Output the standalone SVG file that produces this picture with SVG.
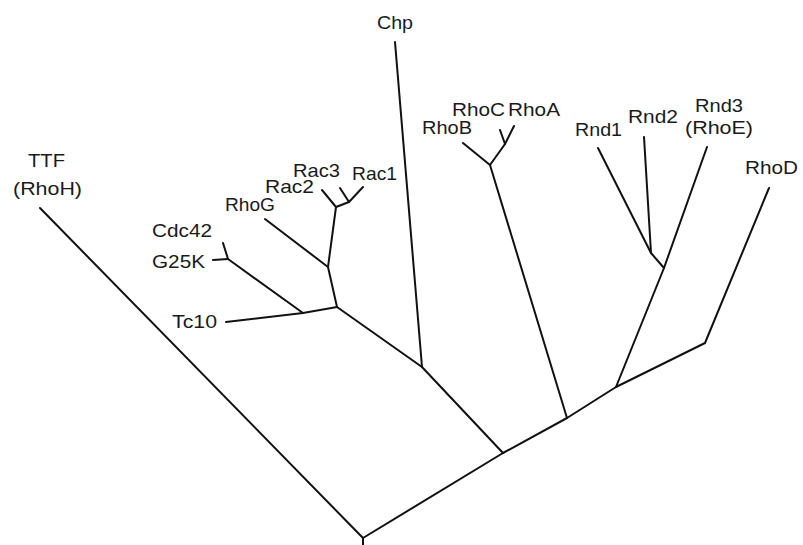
<svg xmlns="http://www.w3.org/2000/svg" width="803" height="545" viewBox="0 0 803 545">
  <style>
    .lbl { font-family: "Liberation Sans", Arial, sans-serif; font-size: 19px; fill: #1a1a1a; }
    .br { fill: none; stroke: #111; stroke-width: 2; stroke-linejoin: round; stroke-linecap: round; }
  </style>
  <rect width="803" height="545" fill="#ffffff"/>
  <g id="connectors">
    <!-- root and trunk -->
    <path class="br" d="M363,545 L363,538"/>
    <path class="br" d="M40,208 L363,538"/>
    <path class="br" d="M363,538 L503,453 L567,418 L616,387 L705,343 L769,188"/>
    <!-- Rho-like cluster -->
    <path class="br" d="M503,453 L422,367 L337,307"/>
    <path class="br" d="M422,367 L395,42"/>
    <path class="br" d="M337,307 L303,313 L226,322"/>
    <path class="br" d="M303,313 L228,259"/>
    <path class="br" d="M228,259 L223,243"/>
    <path class="br" d="M228,259 L213,260"/>
    <path class="br" d="M337,307 L328,267 L265,219"/>
    <path class="br" d="M328,267 L336,207 L322,190"/>
    <path class="br" d="M336,207 L349,202 L340,188"/>
    <path class="br" d="M349,202 L363,187"/>
    <!-- RhoA/B/C -->
    <path class="br" d="M567,418 L490,165 L463,143"/>
    <path class="br" d="M490,165 L505,144 L500,130"/>
    <path class="br" d="M505,144 L514,126"/>
    <!-- Rnd -->
    <path class="br" d="M616,387 L664,268 L707,147"/>
    <path class="br" d="M664,268 L651,253 L598,148"/>
    <path class="br" d="M651,253 L644,137"/>
  </g>
  <g id="node-TTF"><text class="lbl" x="28" y="167" textLength="37" lengthAdjust="spacingAndGlyphs">TTF</text><text class="lbl" x="13" y="195" textLength="69" lengthAdjust="spacingAndGlyphs">(RhoH)</text></g>
  <g id="node-Cdc42"><text class="lbl" x="152" y="237" textLength="60" lengthAdjust="spacingAndGlyphs">Cdc42</text></g>
  <g id="node-G25K"><text class="lbl" x="152" y="268" textLength="53" lengthAdjust="spacingAndGlyphs">G25K</text></g>
  <g id="node-Tc10"><text class="lbl" x="172" y="328" textLength="45" lengthAdjust="spacingAndGlyphs">Tc10</text></g>
  <g id="node-RhoG"><text class="lbl" x="225" y="211" textLength="50" lengthAdjust="spacingAndGlyphs">RhoG</text></g>
  <g id="node-Rac2"><text class="lbl" x="265" y="193" textLength="49" lengthAdjust="spacingAndGlyphs">Rac2</text></g>
  <g id="node-Rac3"><text class="lbl" x="293" y="177" textLength="47" lengthAdjust="spacingAndGlyphs">Rac3</text></g>
  <g id="node-Rac1"><text class="lbl" x="352" y="180" textLength="45" lengthAdjust="spacingAndGlyphs">Rac1</text></g>
  <g id="node-Chp"><text class="lbl" x="377" y="29" textLength="36" lengthAdjust="spacingAndGlyphs">Chp</text></g>
  <g id="node-RhoB"><text class="lbl" x="422" y="134" textLength="50" lengthAdjust="spacingAndGlyphs">RhoB</text></g>
  <g id="node-RhoC"><text class="lbl" x="452" y="116" textLength="53" lengthAdjust="spacingAndGlyphs">RhoC</text></g>
  <g id="node-RhoA"><text class="lbl" x="508" y="116" textLength="52" lengthAdjust="spacingAndGlyphs">RhoA</text></g>
  <g id="node-Rnd1"><text class="lbl" x="575" y="136" textLength="47" lengthAdjust="spacingAndGlyphs">Rnd1</text></g>
  <g id="node-Rnd2"><text class="lbl" x="628" y="123" textLength="50" lengthAdjust="spacingAndGlyphs">Rnd2</text></g>
  <g id="node-Rnd3"><text class="lbl" x="695" y="112" textLength="48" lengthAdjust="spacingAndGlyphs">Rnd3</text><text class="lbl" x="685" y="134" textLength="68" lengthAdjust="spacingAndGlyphs">(RhoE)</text></g>
  <g id="node-RhoD"><text class="lbl" x="745" y="174" textLength="53" lengthAdjust="spacingAndGlyphs">RhoD</text></g>
</svg>
